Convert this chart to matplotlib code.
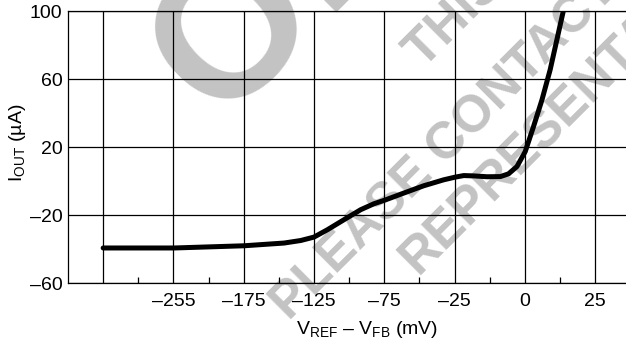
import numpy as np
import matplotlib
matplotlib.use("Agg")
import matplotlib.pyplot as plt

plt.rcParams['font.family'] = ['Liberation Sans', 'DejaVu Sans']
plt.rcParams['mathtext.fontset'] = 'custom'
plt.rcParams['mathtext.rm'] = 'Liberation Sans'
plt.rcParams['mathtext.default'] = 'regular'

# grid positions on the x axis (mV) - the axis is not linear
x_grid = [-335, -255, -175, -125, -75, -25, 0, 25]
x_labels = ['', '–255', '–175', '–125', '–75', '–25', '0', '25']
x_minor = [-295, -215, -150, -100, -50, -12.5, 12.5]

y_ticks = [-60, -20, 20, 60, 100]
y_labels = ['–60', '–20', '20', '60', '100']

# IOUT vs VREF - VFB
v_diff = [-335, -254, -174.7, -146.3, -134.4, -125, -115.5, -103.7, -91.8,
          -82.4, -74.1, -61.1, -46.9, -32.7, -24.7, -21.7, -18.2, -13.4,
          -8.7, -5.8, -2.8, 0.15, 3.1, 6.1, 9.0, 11.4, 13.7]
i_out = [-39.4, -39.4, -38.1, -36.5, -35.0, -33.0, -28.7, -22.8, -16.9,
         -13.4, -11.1, -7.1, -2.8, 0.7, 2.3, 3.2, 3.0, 2.5,
         2.6, 4.2, 8.5, 17.3, 32.0, 47.7, 65.3, 83.0, 100]

# piecewise-linear axis: each grid division is one unit
knots_mv = np.array([-375] + x_grid + [50])
knots_pos = np.array([-0.5] + list(range(len(x_grid))) + [8])


def fwd(v):
    return np.interp(v, knots_mv, knots_pos)


def inv(p):
    return np.interp(p, knots_pos, knots_mv)


W, H = 626, 346
fig = plt.figure(figsize=(W / 100, H / 100), dpi=100)
ax = fig.add_axes([68 / W, 1 - 283 / H, 1 - 68 / W, (283 - 11) / H])
ax.patch.set_alpha(0)

ax.set_xscale('function', functions=(fwd, inv))
ax.set_xlim(-375, 36)
ax.set_ylim(-60, 100)

ax.plot(v_diff, i_out, color='black', lw=3.6, solid_capstyle='round',
        solid_joinstyle='round', zorder=4)

ax.set_xticks(x_grid)
ax.set_xticklabels(x_labels)
ax.set_xticks(x_minor, minor=True)
ax.set_yticks(y_ticks)
ax.set_yticklabels(y_labels)
ax.tick_params(axis='both', which='major', length=0, labelsize=14)
ax.tick_params(axis='x', which='major', pad=7)
ax.tick_params(axis='y', which='major', pad=4)
ax.tick_params(axis='x', which='minor', direction='in', length=4, width=0.9)
ax.grid(True, which='major', color='black', lw=0.9)

ax.spines['right'].set_visible(False)
for s in ['left', 'bottom', 'top']:
    ax.spines[s].set_linewidth(0.9)

fig.text(17 / W, 1 - 143 / H, r'$I_{OUT}$ (µA)', rotation=90,
         ha='center', va='center', fontsize=14)
fig.text(367 / W, 1 - 330 / H, r'$V_{REF}$ – $V_{FB}$ (mV)',
         ha='center', va='center', fontsize=14)

# watermark behind the plot (baseline start of each line, in pixels)
wm = dict(color='#c3c3c3', fontweight='bold', rotation=45, rotation_mode='anchor',
          ha='left', va='baseline', zorder=-1)
fig.text(219 / W, 1 - 123 / H, 'OBSOLETE', fontsize=140, **wm)
fig.text(424 / W, 1 - 70 / H, 'THIS PRODUCT', fontsize=37, **wm)
fig.text(290 / W, 1 - 322 / H, 'PLEASE CONTACT', fontsize=37, **wm)
fig.text(418 / W, 1 - 276 / H, 'REPRESENTATIVE', fontsize=37, **wm)

fig.savefig('out.png', dpi=100)
